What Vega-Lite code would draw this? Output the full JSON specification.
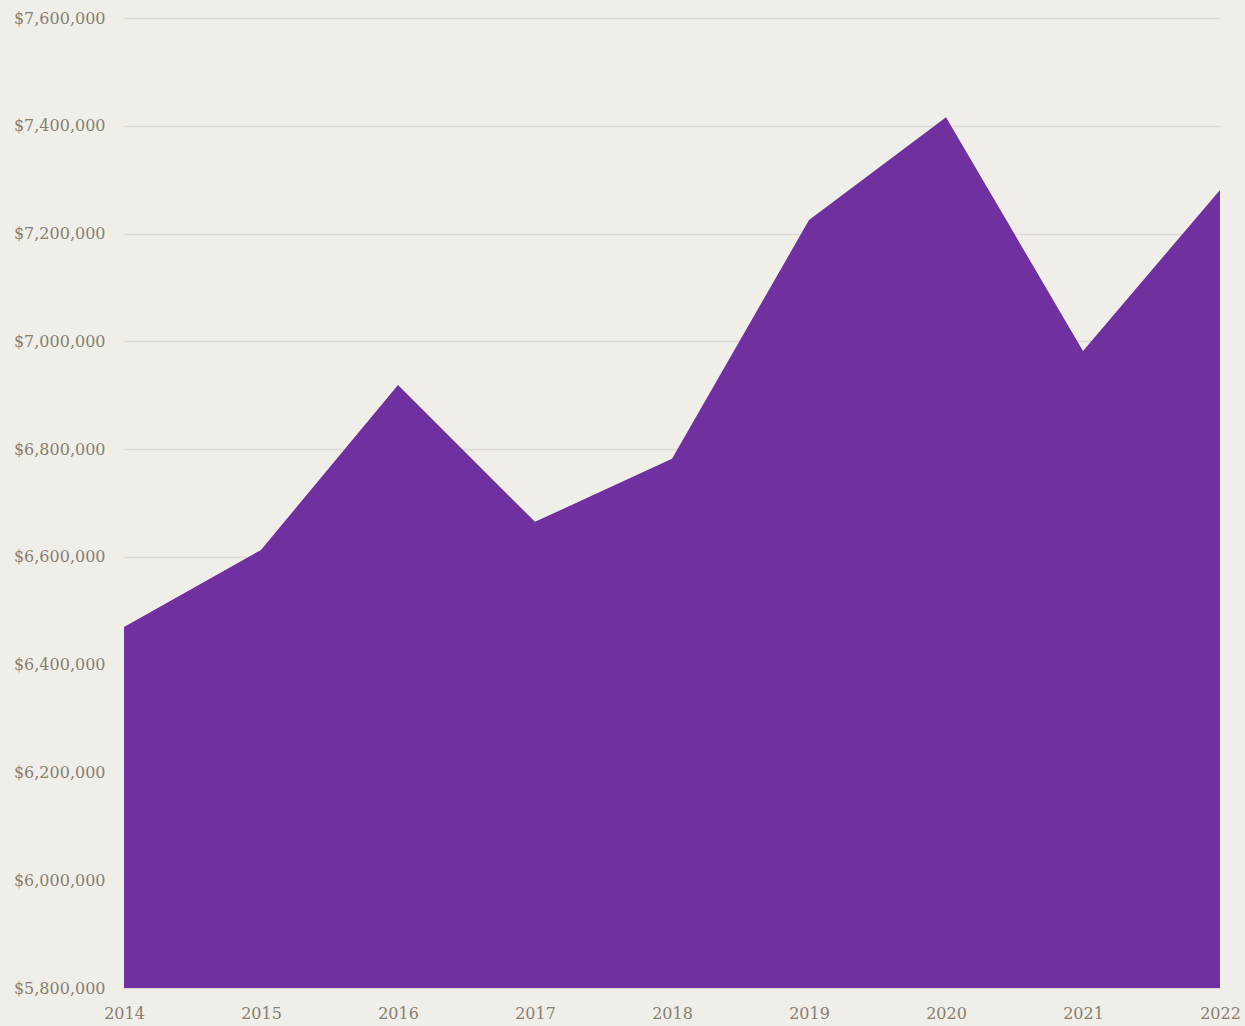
{
  "$schema": "https://vega.github.io/schema/vega-lite/v6.json",
  "width": 1096,
  "height": 970,
  "autosize": {"type": "none"},
  "padding": {"left": 124, "top": 18, "right": 25, "bottom": 38},
  "background": "#efeee9",
  "config": {"view": {"stroke": null}},
  "data": {"values": [
    {"year": 2014, "value": 6470000},
    {"year": 2015, "value": 6613000},
    {"year": 2016, "value": 6919000},
    {"year": 2017, "value": 6665000},
    {"year": 2018, "value": 6782000},
    {"year": 2019, "value": 7225000},
    {"year": 2020, "value": 7416000},
    {"year": 2021, "value": 6982000},
    {"year": 2022, "value": 7281000}
  ]},
  "mark": {"type": "area", "color": "#7030a0", "opacity": 1, "clip": true},
  "encoding": {
    "x": {"field": "year", "type": "quantitative",
      "scale": {"domain": [2014, 2022], "nice": false, "zero": false},
      "axis": {"title": null, "values": [2014,2015,2016,2017,2018,2019,2020,2021,2022], "format": "d",
        "grid": false, "domain": false, "ticks": false, "labelPadding": 17,
        "labelFont": "DejaVu Serif", "labelFontSize": 16, "labelColor": "#8a7f70", "labelFlush": false, "labelOverlap": false}},
    "y": {"field": "value", "type": "quantitative",
      "scale": {"domain": [5800000, 7600000], "nice": false, "zero": false},
      "axis": {"title": null, "values": [5800000,6000000,6200000,6400000,6600000,6800000,7000000,7200000,7400000,7600000],
        "format": "$,.0f", "grid": true, "gridColor": "#dedbd4", "gridWidth": 1.5, "domain": false, "ticks": false,
        "labelPadding": 19, "labelFont": "DejaVu Serif", "labelFontSize": 16, "labelColor": "#8a7f70", "labelOverlap": false}}
  }
}
